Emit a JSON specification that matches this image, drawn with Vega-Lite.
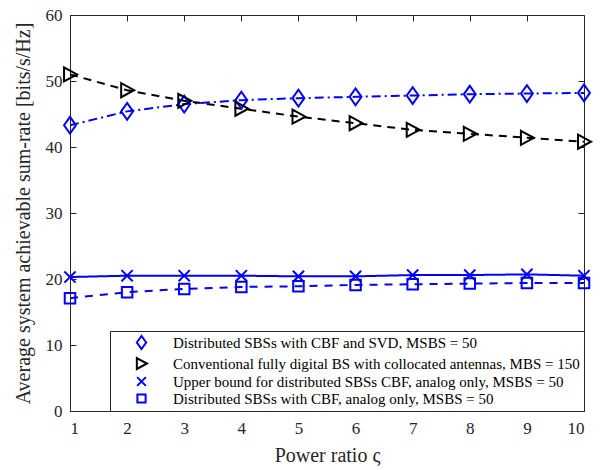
{
  "$schema": "https://vega.github.io/schema/vega-lite/v6.json",
  "width": 514,
  "height": 396,
  "autosize": {"type": "none"},
  "padding": {"left": 70, "top": 15, "right": 16, "bottom": 59},
  "background": "white",
  "config": {
    "font": "Liberation Serif",
    "view": {"stroke": "#262626", "strokeWidth": 1},
    "axis": {
      "grid": false,
      "domainColor": "#262626",
      "tickColor": "#262626",
      "tickSize": -6,
      "labelFont": "Liberation Serif",
      "labelFontSize": 17,
      "labelColor": "#262626",
      "titleFont": "Liberation Serif",
      "titleFontSize": 20,
      "titleFontWeight": "normal",
      "titleColor": "#262626"
    }
  },
  "data": {
    "values": [
      {"x": 1, "y": 43.3, "s": "a"}, {"x": 2, "y": 45.4, "s": "a"}, {"x": 3, "y": 46.5, "s": "a"}, {"x": 4, "y": 47.1, "s": "a"}, {"x": 5, "y": 47.4, "s": "a"},
      {"x": 6, "y": 47.6, "s": "a"}, {"x": 7, "y": 47.8, "s": "a"}, {"x": 8, "y": 48.0, "s": "a"}, {"x": 9, "y": 48.1, "s": "a"}, {"x": 10, "y": 48.2, "s": "a"},
      {"x": 1, "y": 51.0, "s": "b"}, {"x": 2, "y": 48.6, "s": "b"}, {"x": 3, "y": 47.0, "s": "b"}, {"x": 4, "y": 45.8, "s": "b"}, {"x": 5, "y": 44.6, "s": "b"},
      {"x": 6, "y": 43.6, "s": "b"}, {"x": 7, "y": 42.6, "s": "b"}, {"x": 8, "y": 42.0, "s": "b"}, {"x": 9, "y": 41.4, "s": "b"}, {"x": 10, "y": 40.8, "s": "b"},
      {"x": 1, "y": 20.3, "s": "c"}, {"x": 2, "y": 20.5, "s": "c"}, {"x": 3, "y": 20.5, "s": "c"}, {"x": 4, "y": 20.5, "s": "c"}, {"x": 5, "y": 20.4, "s": "c"},
      {"x": 6, "y": 20.4, "s": "c"}, {"x": 7, "y": 20.6, "s": "c"}, {"x": 8, "y": 20.6, "s": "c"}, {"x": 9, "y": 20.7, "s": "c"}, {"x": 10, "y": 20.5, "s": "c"},
      {"x": 1, "y": 17.1, "s": "d"}, {"x": 2, "y": 18.0, "s": "d"}, {"x": 3, "y": 18.5, "s": "d"}, {"x": 4, "y": 18.8, "s": "d"}, {"x": 5, "y": 18.9, "s": "d"},
      {"x": 6, "y": 19.1, "s": "d"}, {"x": 7, "y": 19.2, "s": "d"}, {"x": 8, "y": 19.3, "s": "d"}, {"x": 9, "y": 19.4, "s": "d"}, {"x": 10, "y": 19.4, "s": "d"}
    ]
  },
  "layer": [
    {
      "mark": {"type": "line", "strokeWidth": 2},
      "encoding": {
        "x": {"field": "x", "type": "quantitative", "scale": {"domain": [1, 10], "nice": false},
              "axis": {"values": [1,2,3,4,5,6,7,8,9,10], "title": "Power ratio ς", "labelPadding": 15, "titlePadding": 9}},
        "y": {"field": "y", "type": "quantitative", "scale": {"domain": [0, 60], "nice": false},
              "axis": {"values": [0,10,20,30,40,50,60], "title": "Average system achievable sum-rate [bits/s/Hz]", "labelPadding": 14, "titlePadding": 12}},
        "color": {"field": "s", "type": "nominal", "scale": {"domain": ["a","b","c","d"], "range": ["#0000ff","#000000","#0000ff","#0000ff"]}},
        "strokeDash": {"field": "s", "type": "nominal", "scale": {"range": [[9,4,2,4],[8,6],[1,0],[8,7]]}, "legend": null}
      }
    },
    {
      "mark": {"type": "point", "filled": false, "strokeWidth": 2, "size": 196, "opacity": 1},
      "encoding": {
        "x": {"field": "x", "type": "quantitative", "axis": null},
        "y": {"field": "y", "type": "quantitative", "axis": null},
        "color": {"field": "s", "type": "nominal"},
        "shape": {"field": "s", "type": "nominal",
          "scale": {"domain": ["a","b","c","d"], "range": ["M-0.85,0L0,-1.2L0.85,0L0,1.2Z", "M-0.85,-1L1,0L-0.85,1Z", "M-0.8,-0.8L0.8,0.8M-0.8,0.8L0.8,-0.8", "M-0.75,-0.75H0.75V0.75H-0.75Z"]},
          "legend": {
            "title": null,
            "orient": "bottom-right",
            "offset": 0,
            "padding": 4,
            "strokeColor": "#262626",
            "fillColor": "white",
            "symbolSize": 120,
            "symbolStrokeWidth": 2,
            "symbolOffset": 20,
            "labelOffset": 24,
            "labelFont": "Liberation Serif",
            "labelFontSize": 15,
            "labelColor": "black",
            "labelLimit": 600,
            "rowPadding": 0,
            "labelExpr": "datum.value === 'a' ? 'Distributed SBSs with CBF and SVD, MSBS = 50' : datum.value === 'b' ? 'Conventional fully digital BS with collocated antennas, MBS = 150' : datum.value === 'c' ? 'Upper bound for distributed SBSs CBF, analog only, MSBS = 50' : 'Distributed SBSs with CBF, analog only, MSBS = 50'"
          }
        }
      }
    },
    {
      "mark": {"type": "point", "opacity": 0},
      "encoding": {
        "x": {"field": "x", "type": "quantitative", "axis": {"orient": "top", "values": [1,2,3,4,5,6,7,8,9,10], "labels": false, "title": null, "domain": false}},
        "y": {"field": "y", "type": "quantitative", "axis": {"orient": "right", "values": [0,10,20,30,40,50,60], "labels": false, "title": null, "domain": false}}
      }
    }
  ],
  "resolve": {"axis": {"x": "independent", "y": "independent"}}
}
